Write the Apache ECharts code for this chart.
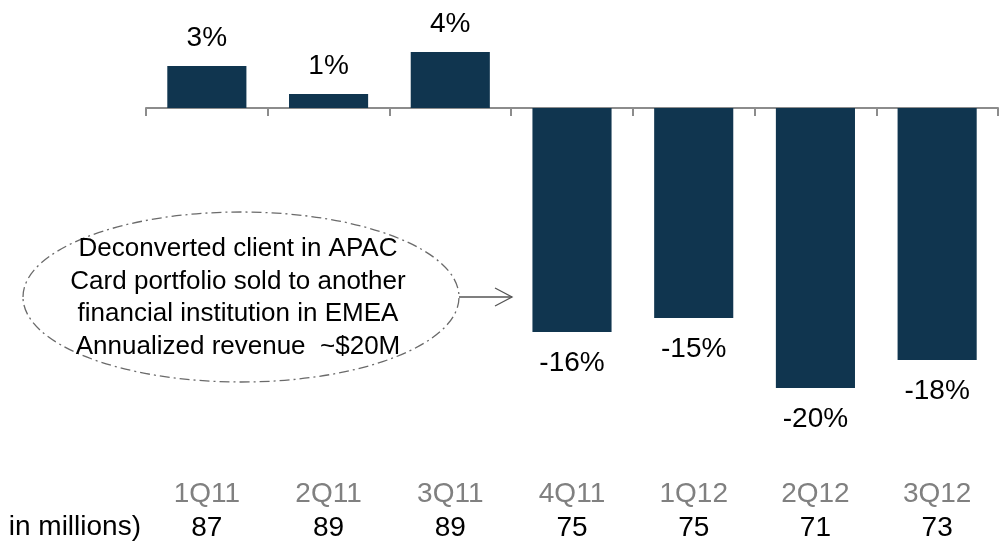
<!DOCTYPE html>
<html>
<head>
<meta charset="utf-8">
<script src="https://cdn.jsdelivr.net/npm/echarts@6/dist/echarts.min.js"></script>
<style>
  html, body { margin: 0; padding: 0; background: #fff; }
  #chart { width: 1000px; height: 544px; }
</style>
</head>
<body>
<div id="chart"></div>
<script>
// quarters on the x axis
const quarters = ['1Q11', '2Q11', '3Q11', '4Q11', '1Q12', '2Q12', '3Q12']
// year-over-year change, %
const growth = [3, 1, 4, -16, -15, -20, -18]
// revenue row under the labels
const revenue = [87, 89, 89, 75, 75, 71, 73]
const revenueTitle = 'in millions)'
const noteLines = [
  'Deconverted client in APAC',
  'Card portfolio sold to another',
  'financial institution in EMEA',
  'Annualized revenue  ~$20M'
]

const font = "'Liberation Sans', Arial, sans-serif"
const chart = echarts.init(document.getElementById('chart'))

const option = {
  animation: false,
  grid: { left: 146, right: 2, top: 38, bottom: 86 },
  xAxis: [
    {
      type: 'category',
      data: quarters,
      position: 'bottom',
      axisLine: { onZero: true, lineStyle: { color: '#8c8c8c', width: 2 } },
      axisTick: { show: true, length: 8, lineStyle: { color: '#8c8c8c', width: 2 } },
      axisLabel: { show: false }
    },
    {
      type: 'category',
      data: quarters,
      position: 'bottom',
      axisLine: { show: false, onZero: false },
      axisTick: { show: false },
      axisLabel: {
        interval: 0,
        margin: 19,
        formatter: function (value, index) {
          return '{q|' + value + '}\n{n|' + revenue[index] + '}'
        },
        rich: {
          q: { color: '#808080', fontSize: 28, fontFamily: font, lineHeight: 34 },
          n: { color: '#000', fontSize: 28, fontFamily: font, lineHeight: 34 }
        }
      }
    }
  ],
  yAxis: {
    type: 'value',
    min: -25,
    max: 5,
    show: false,
    splitLine: { show: false }
  },
  series: [
    {
      type: 'bar',
      xAxisIndex: 0,
      data: growth,
      barCategoryGap: '35%',
      itemStyle: { color: '#10354f' },
      label: {
        show: true,
        position: 'top',
        distance: 14,
        color: '#000',
        fontSize: 28,
        fontFamily: font,
        formatter: function (p) { return p.value + '%' }
      }
    }
  ],
  graphic: [
    {
      type: 'text',
      x: 141,
      y: 527,
      style: {
        text: revenueTitle,
        fill: '#000',
        font: '28px ' + font,
        textAlign: 'right',
        textVerticalAlign: 'middle'
      }
    },
    {
      type: 'ellipse',
      shape: { cx: 241, cy: 297, rx: 218, ry: 85 },
      style: { fill: 'none', stroke: '#6a6a6a', lineWidth: 1.3, lineDash: [10, 4, 2, 4] }
    },
    {
      type: 'text',
      x: 238,
      y: 298,
      style: {
        text: noteLines.join('\n'),
        fill: '#000',
        font: '26px ' + font,
        lineHeight: 32.5,
        textAlign: 'center',
        textVerticalAlign: 'middle'
      }
    },
    {
      type: 'line',
      shape: { x1: 459, y1: 297, x2: 512, y2: 297 },
      style: { stroke: '#555', lineWidth: 1.3 }
    },
    {
      type: 'polyline',
      shape: { points: [[495, 288], [512, 297], [495, 306]] },
      style: { stroke: '#555', lineWidth: 1.3, fill: 'none' }
    }
  ]
}

// negative bars get their labels underneath
option.series[0].data = growth.map(function (v) {
  return v < 0 ? { value: v, label: { position: 'bottom', distance: 17 } } : v
})

chart.setOption(option)
</script>
</body>
</html>
